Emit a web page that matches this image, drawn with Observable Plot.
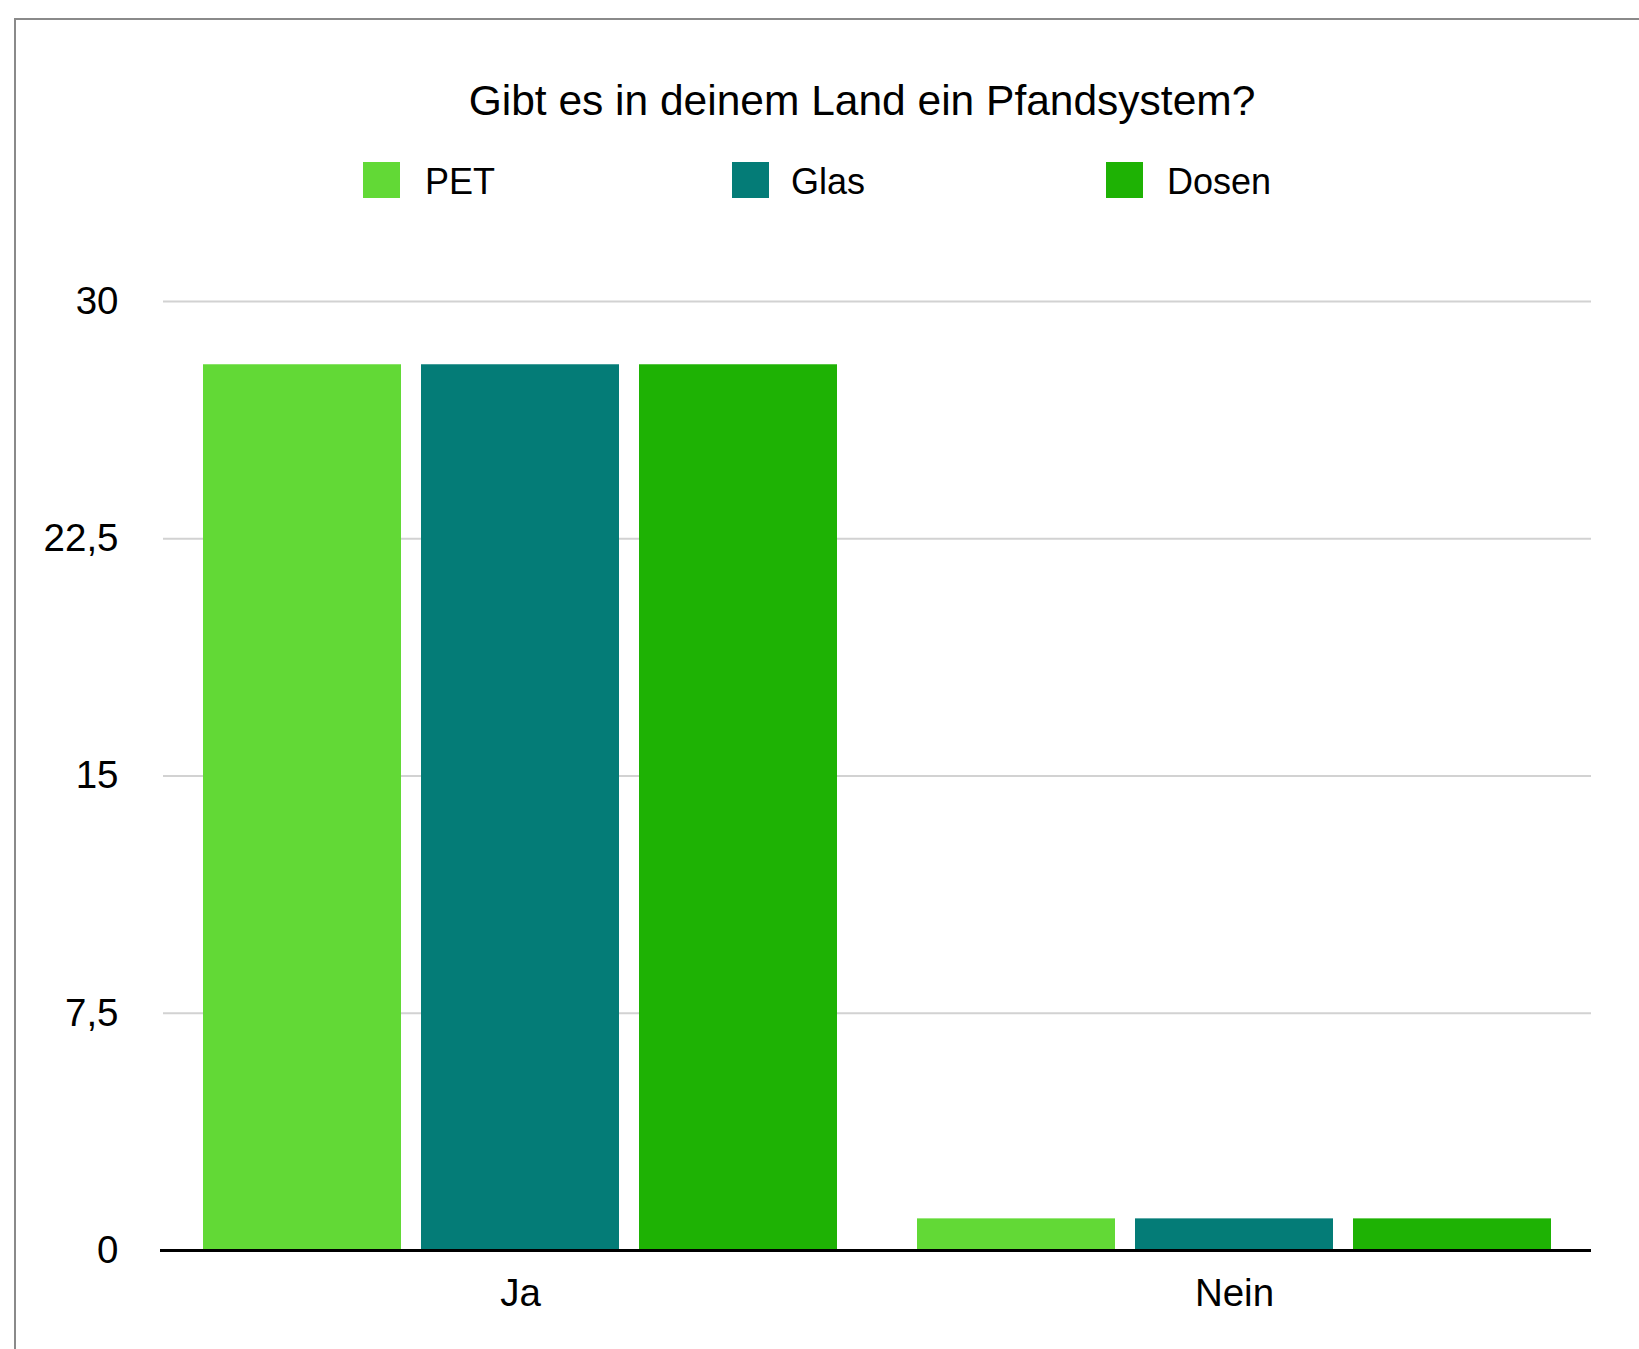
<!DOCTYPE html>
<html>
<head>
<meta charset="utf-8">
<script src="https://cdn.jsdelivr.net/npm/d3@7"></script>
<script src="https://cdn.jsdelivr.net/npm/@observablehq/plot@0.6"></script>
<style>
  html, body { margin: 0; padding: 0; background: #fff; }
  #wrap { position: relative; width: 1639px; height: 1349px; overflow: hidden; font-family: "Liberation Sans", Arial, Helvetica, sans-serif; color: #000; }
  #frame { position: absolute; left: 14px; top: 18px; width: 1700px; height: 1400px; border-left: 2px solid #8a8a8a; border-top: 2px solid #8a8a8a; }
  #chart { position: absolute; left: 0; top: 0; }
  #title { position: absolute; left: 862px; top: 80px; transform: translateX(-50%); font-size: 42.5px; line-height: 1; white-space: nowrap; }
  .leg-sw { position: absolute; width: 37px; height: 36px; top: 162px; }
  .leg-tx { position: absolute; top: 164px; font-size: 36px; line-height: 1; white-space: nowrap; }
</style>
</head>
<body>
<div id="wrap">
  <div id="frame"></div>
  <div id="chart"></div>
  <div id="title"></div>
  <div id="legend"></div>
</div>
<script>
const titleText = "Gibt es in deinem Land ein Pfandsystem?";
const categories = ["Ja", "Nein"];
const series = ["PET", "Glas", "Dosen"];
const petValues = [28, 1];
const glasValues = [28, 1];
const dosenValues = [28, 1];
const yTicks = [0, 7.5, 15, 22.5, 30];
const colors = ["#62d936", "#047c77", "#1eb204"];

const seriesValues = [petValues, glasValues, dosenValues];
const data = categories.flatMap((c, i) =>
  series.map((s, j) => ({category: c, series: s, value: seriesValues[j][i]}))
);

const chart = Plot.plot({
  width: 1639,
  height: 1349,
  marginLeft: 162,
  marginRight: 48,
  marginTop: 301,
  marginBottom: 99,
  style: {fontFamily: "'Liberation Sans', Arial, Helvetica, sans-serif", fontSize: "38.5px", color: "#000", background: "transparent", overflow: "visible"},
  facet: {data, x: "category"},
  fx: {domain: categories, paddingInner: 0, paddingOuter: 0, axis: "bottom", label: null, tickSize: 0, tickPadding: 28},
  x: {domain: series, axis: null, paddingInner: 0.091, paddingOuter: 0.177},
  y: {domain: [0, 30], ticks: yTicks, tickFormat: d => String(d).replace(".", ","), tickSize: 0, tickPadding: 45, label: null},
  color: {domain: series, range: colors},
  marks: [
    Plot.ruleY(yTicks.filter(d => d > 0), {stroke: "#d2d2d2", strokeWidth: 2}),
    Plot.barY(data, {x: "series", y: "value", fill: "series"}),
    Plot.ruleY([0], {stroke: "#000", strokeWidth: 3, insetLeft: -3})
  ]
});
document.getElementById("chart").appendChild(chart);

document.getElementById("title").textContent = titleText;

const legendSwatchX = [363, 732, 1106];
const legendTextX = [425, 791, 1167];
const legend = document.getElementById("legend");
series.forEach((s, i) => {
  const sw = document.createElement("div");
  sw.className = "leg-sw";
  sw.style.left = legendSwatchX[i] + "px";
  sw.style.background = colors[i];
  legend.appendChild(sw);
  const tx = document.createElement("div");
  tx.className = "leg-tx";
  tx.style.left = legendTextX[i] + "px";
  tx.textContent = s;
  legend.appendChild(tx);
});
</script>
</body>
</html>
